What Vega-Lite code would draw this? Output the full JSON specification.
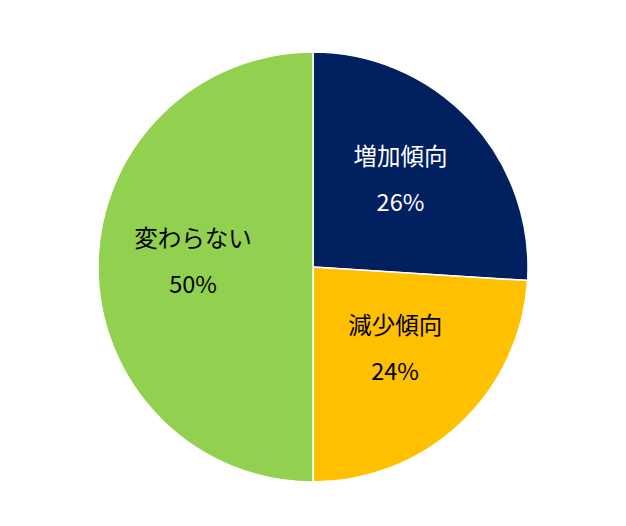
{
  "$schema": "https://vega.github.io/schema/vega-lite/v6.json",
  "width": 626,
  "height": 526,
  "autosize": {"type": "fit", "contains": "padding"},
  "padding": {"top": 8, "bottom": 0, "left": 0, "right": 0},
  "background": "white",
  "view": {"stroke": null},
  "data": {
    "values": [
      {"idx": 1, "category": "増加傾向", "share": 0.26},
      {"idx": 2, "category": "減少傾向", "share": 0.24},
      {"idx": 3, "category": "変わらない", "share": 0.50}
    ]
  },
  "encoding": {
    "theta": {"field": "share", "type": "quantitative", "stack": true},
    "order": {"field": "idx", "type": "quantitative", "sort": "ascending"}
  },
  "layer": [
    {
      "mark": {"type": "arc", "outerRadius": 215, "stroke": "white", "strokeWidth": 1.5},
      "encoding": {
        "color": {
          "field": "category",
          "type": "nominal",
          "scale": {"domain": ["増加傾向", "減少傾向", "変わらない"], "range": ["#002060", "#FFC000", "#92D050"]},
          "legend": null
        }
      }
    },
    {
      "mark": {"type": "text", "radius": 120, "dy": -27, "font": "Noto Sans CJK JP", "fontSize": 23.5},
      "encoding": {
        "text": {"field": "category", "type": "nominal"},
        "color": {"condition": {"test": "datum.category === '増加傾向'", "value": "white"}, "value": "#000000"}
      }
    },
    {
      "mark": {"type": "text", "radius": 120, "dy": 19, "font": "Noto Sans CJK JP", "fontSize": 23.5},
      "encoding": {
        "text": {"field": "share", "type": "quantitative", "format": ".0%"},
        "color": {"condition": {"test": "datum.category === '増加傾向'", "value": "white"}, "value": "#000000"}
      }
    }
  ]
}
